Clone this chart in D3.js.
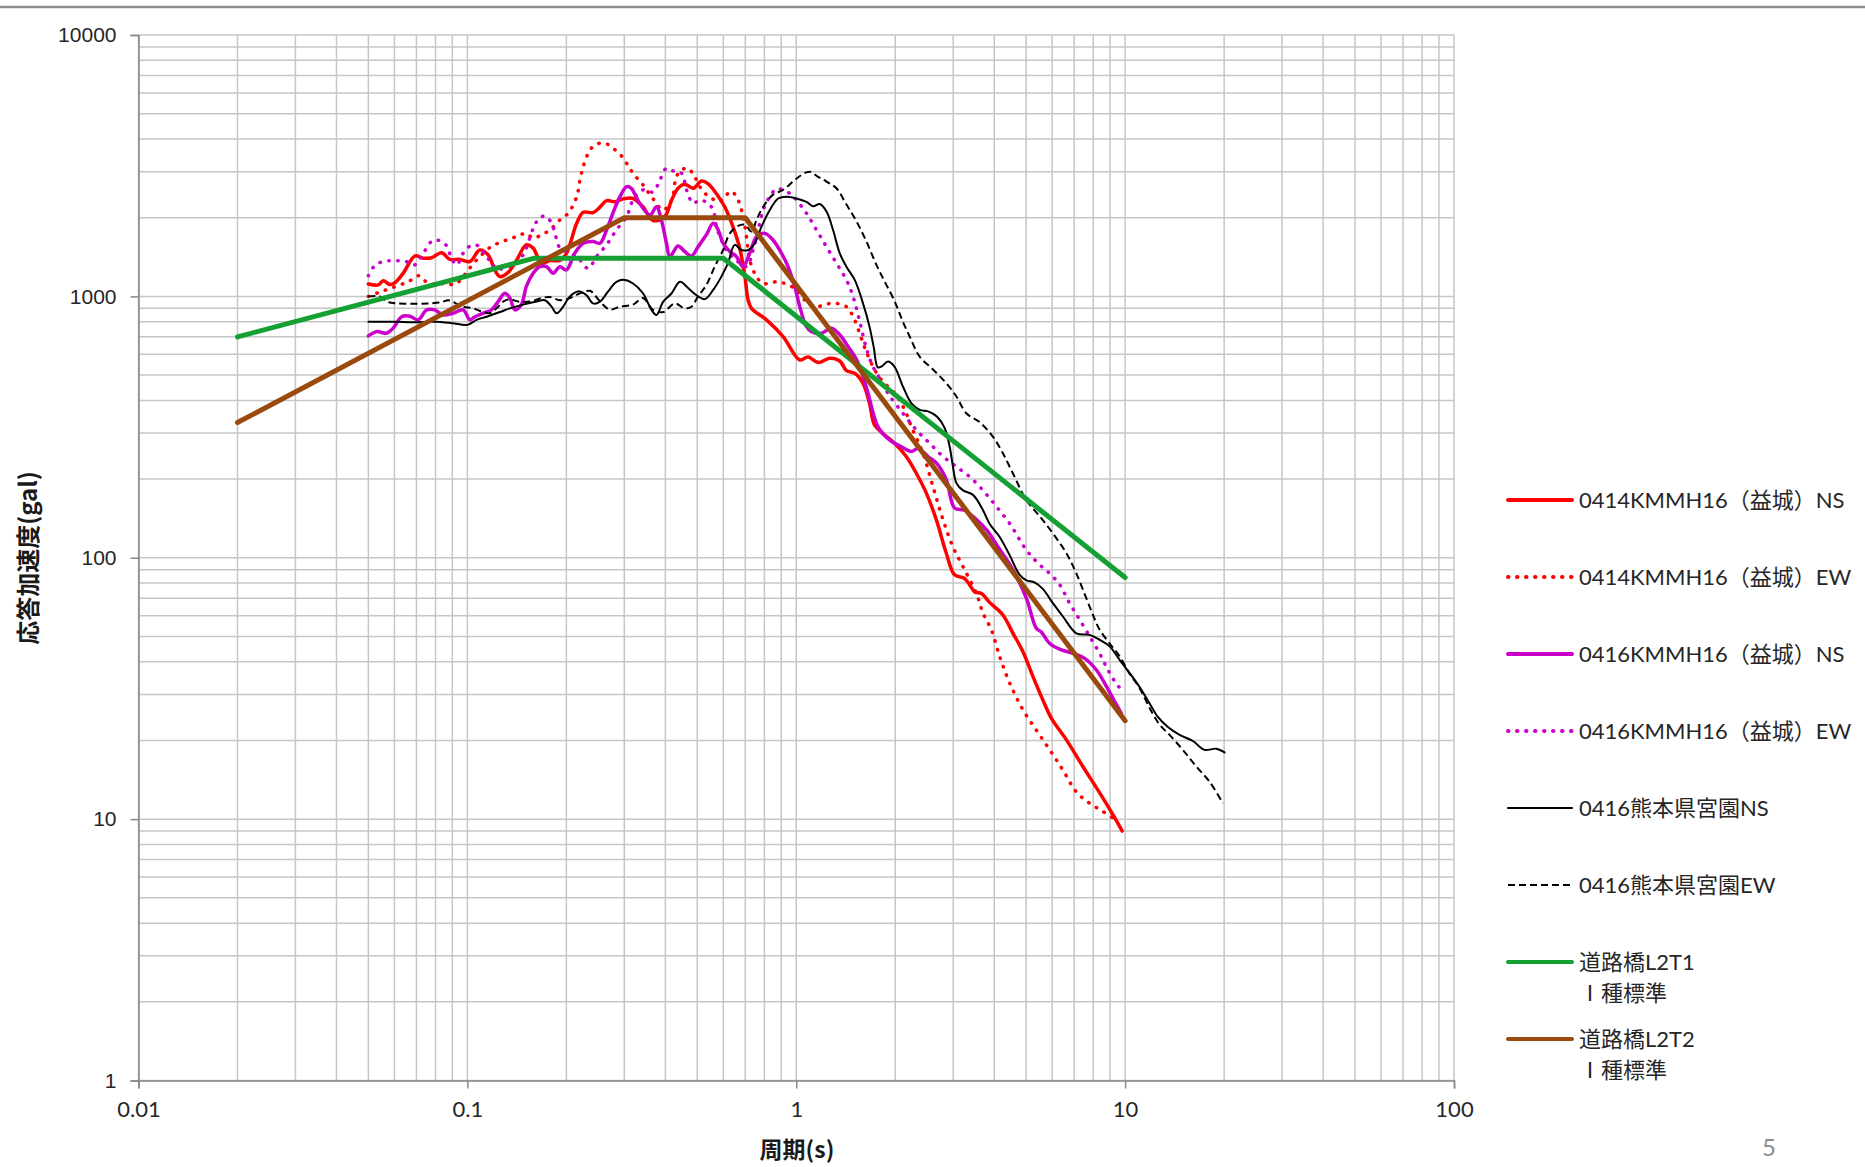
<!DOCTYPE html>
<html>
<head>
<meta charset="utf-8">
<script src="https://cdn.jsdelivr.net/npm/d3@7"></script>
<style>
  body { margin: 0; background: #fff; }
  svg { display: block; }
</style>
</head>
<body>
<div id="chart"></div>
<script>
// Tick labels
const periodTicks = [0.01, 0.1, 1, 10, 100];
const accelTicks = [1, 10, 100, 1000, 10000];

// Series: [period (s), response acceleration (gal)]
const kmmh0414NS = [
  [0.05, 1115], [0.0536, 1106], [0.0555, 1148], [0.0581, 1110], [0.0602, 1128], [0.0638, 1225],
  [0.0692, 1427], [0.0734, 1400], [0.0778, 1405], [0.0835, 1469], [0.0885, 1385], [0.0949, 1385],
  [0.1018, 1360], [0.1091, 1505], [0.1157, 1440], [0.1212, 1262], [0.1256, 1190], [0.133, 1235],
  [0.141, 1372], [0.151, 1574], [0.1585, 1530], [0.168, 1340], [0.1782, 1372], [0.191, 1372],
  [0.2, 1458], [0.215, 1904], [0.225, 2097], [0.241, 2090], [0.253, 2194], [0.265, 2324],
  [0.281, 2300], [0.2976, 2360], [0.319, 2369], [0.342, 2202], [0.367, 1950], [0.398, 2020],
  [0.418, 2339], [0.437, 2591], [0.458, 2688], [0.486, 2591], [0.515, 2764], [0.539, 2700],
  [0.572, 2470], [0.606, 2202], [0.642, 1848], [0.673, 1530], [0.698, 1190], [0.714, 968],
  [0.731, 900], [0.812, 813], [0.912, 702], [1.025, 571], [1.086, 586], [1.165, 558],
  [1.264, 580], [1.356, 566], [1.421, 520], [1.506, 508], [1.596, 465], [1.67, 390],
  [1.73, 322], [1.835, 299], [1.99, 274], [2.16, 244], [2.32, 210], [2.49, 176], [2.67, 139],
  [2.86, 104], [3.03, 86], [3.25, 83.3], [3.37, 78.6], [3.49, 74], [3.66, 73], [3.87, 67.5],
  [4.25, 60.4], [4.56, 51.4], [4.89, 43.7], [5.25, 35], [5.62, 28.6], [5.97, 24.3],
  [6.63, 20.1], [7.44, 15.9], [8.37, 12.6], [9.18, 10.4], [9.8, 9.0]
];

const kmmh0414EW = [
  [0.05, 1000], [0.0536, 1034], [0.0624, 1106], [0.0669, 1148], [0.0715, 1200], [0.076, 1120],
  [0.081, 1115], [0.086, 1120], [0.091, 1110], [0.095, 1150], [0.1, 1250], [0.108, 1400],
  [0.118, 1548], [0.1316, 1643], [0.141, 1692], [0.151, 1742], [0.1585, 1670], [0.168, 1720],
  [0.1782, 1795], [0.191, 1960], [0.2025, 2080], [0.215, 2407], [0.22, 2786], [0.225, 3133],
  [0.233, 3527], [0.244, 3795], [0.262, 3855], [0.277, 3686], [0.291, 3500], [0.305, 3229],
  [0.319, 2958], [0.342, 2669], [0.363, 2407], [0.394, 2141], [0.418, 2339], [0.432, 2868],
  [0.448, 3044], [0.469, 3090], [0.491, 2868], [0.521, 2513], [0.546, 2407], [0.579, 2300],
  [0.606, 2407], [0.635, 2525], [0.665, 2339], [0.689, 2020], [0.706, 1692], [0.722, 1376],
  [0.757, 1190], [0.793, 1120], [0.871, 1137], [0.934, 1115], [1.001, 1058], [1.074, 955],
  [1.152, 913], [1.236, 935], [1.325, 940], [1.421, 913], [1.488, 840], [1.56, 720],
  [1.62, 630], [1.712, 538], [1.816, 479], [1.99, 426], [2.137, 368], [2.24, 317],
  [2.428, 251], [2.605, 187], [2.794, 140], [2.996, 110], [3.214, 92.5], [3.53, 73],
  [3.697, 61.4], [3.92, 53], [4.155, 41.9], [4.46, 33.1], [4.89, 26.2], [5.37, 21.9],
  [5.9, 18.4], [6.47, 15.4], [7.11, 12.7], [7.8, 11.5], [8.56, 10.7], [9.51, 9.8]
];

const kmmh0416NS = [
  [0.05, 706], [0.053, 733], [0.0568, 723], [0.0595, 756], [0.0631, 836], [0.0669, 840],
  [0.0709, 813], [0.0752, 888], [0.0796, 888], [0.0844, 849], [0.0905, 862], [0.0971, 888],
  [0.1018, 813], [0.1054, 836], [0.1117, 862], [0.1184, 888], [0.124, 955], [0.13, 1028],
  [0.1347, 985], [0.1394, 888], [0.146, 930], [0.151, 1089], [0.1585, 1225], [0.166, 1299],
  [0.174, 1299], [0.1823, 1225], [0.191, 1299], [0.2, 1262], [0.212, 1462], [0.225, 1597],
  [0.241, 1622], [0.253, 1597], [0.265, 1795], [0.277, 2080], [0.291, 2407], [0.305, 2630],
  [0.315, 2591], [0.334, 2270], [0.359, 2046], [0.376, 2202], [0.389, 1960], [0.403, 1597],
  [0.413, 1420], [0.437, 1560], [0.458, 1485], [0.48, 1427], [0.503, 1548], [0.533, 1720],
  [0.559, 1904], [0.579, 1795], [0.599, 1597], [0.628, 1485], [0.658, 1420], [0.689, 1299],
  [0.722, 1462], [0.757, 1692], [0.802, 1742], [0.85, 1643], [0.902, 1462], [0.944, 1299],
  [0.99, 1089], [1.025, 913], [1.074, 766], [1.112, 733], [1.193, 723], [1.279, 756],
  [1.356, 713], [1.437, 643], [1.524, 575], [1.596, 493], [1.653, 426], [1.773, 317],
  [1.924, 282], [2.088, 266], [2.24, 255], [2.345, 262], [2.515, 244], [2.67, 230],
  [2.86, 199], [3.03, 155], [3.25, 152], [3.49, 142], [3.786, 128], [4.107, 110],
  [4.56, 90], [5.01, 70], [5.37, 53.7], [5.56, 52], [5.9, 47], [6.4, 44.4], [6.94, 43.1],
  [7.53, 41.2], [8.18, 37.2], [8.77, 32.2], [9.36, 27.7], [9.74, 25.4]
];

const kmmh0416EW = [
  [0.05, 1200], [0.0523, 1311], [0.0555, 1360], [0.06, 1370], [0.065, 1360], [0.069, 1318],
  [0.0734, 1462], [0.0778, 1622], [0.081, 1643], [0.086, 1574], [0.09, 1380], [0.093, 1320],
  [0.097, 1460], [0.103, 1570], [0.108, 1560], [0.113, 1450], [0.118, 1350], [0.124, 1260],
  [0.13, 1300], [0.14, 1320], [0.15, 1500], [0.158, 1800], [0.166, 2000], [0.174, 2020],
  [0.182, 1850], [0.19, 1550], [0.1955, 1505], [0.215, 1420], [0.233, 1280], [0.247, 1420],
  [0.265, 1574], [0.284, 1795], [0.305, 2020], [0.319, 2339], [0.342, 2554], [0.367, 2510],
  [0.385, 2786], [0.403, 3090], [0.427, 3000], [0.448, 2958], [0.464, 2554], [0.486, 2270],
  [0.509, 2339], [0.539, 2270], [0.559, 2141], [0.572, 1848], [0.592, 1643], [0.613, 1505],
  [0.658, 1372], [0.706, 1299], [0.739, 1505], [0.766, 1795], [0.793, 2141], [0.831, 2407],
  [0.871, 2580], [0.912, 2554], [0.967, 2450], [1.001, 2339], [1.074, 2080], [1.152, 1795],
  [1.236, 1548], [1.325, 1340], [1.421, 1156], [1.488, 1000], [1.56, 800], [1.635, 630],
  [1.712, 538], [1.794, 485], [1.9, 426], [2.11, 357], [2.32, 308], [2.546, 274],
  [2.794, 244], [3.069, 223], [3.37, 204], [3.697, 181], [4.06, 157], [4.46, 135],
  [5.01, 107], [5.45, 95], [5.9, 87], [6.32, 79], [6.78, 67], [7.27, 58], [7.8, 50],
  [8.37, 43], [8.87, 37.2], [9.4, 33], [9.8, 31]
];

const miyazono0416NS = [
  [0.05, 800], [0.0595, 800], [0.0701, 796], [0.08, 800], [0.09, 790], [0.1, 778],
  [0.1066, 813], [0.1144, 836], [0.1256, 871], [0.1347, 900], [0.1477, 930], [0.1623, 955],
  [0.172, 967], [0.1803, 913], [0.1867, 862], [0.1955, 913], [0.205, 1000], [0.217, 1045],
  [0.23, 1011], [0.241, 940], [0.253, 955], [0.268, 1045], [0.284, 1137], [0.301, 1156],
  [0.319, 1120], [0.342, 1028], [0.363, 888], [0.376, 849], [0.394, 955], [0.418, 1028],
  [0.443, 1137], [0.469, 1076], [0.497, 1011], [0.527, 976], [0.559, 1058], [0.592, 1190],
  [0.62, 1340], [0.65, 1574], [0.681, 1505], [0.714, 1505], [0.748, 1597], [0.784, 1848],
  [0.831, 2141], [0.881, 2369], [0.934, 2407], [1.001, 2369], [1.074, 2300], [1.125, 2213],
  [1.179, 2255], [1.236, 2112], [1.294, 1795], [1.356, 1462], [1.421, 1299], [1.506, 1156],
  [1.596, 940], [1.67, 766], [1.72, 640], [1.77, 535], [1.82, 540], [1.9, 563], [1.99, 538],
  [2.11, 452], [2.24, 390], [2.373, 368], [2.515, 363], [2.67, 348], [2.828, 313],
  [2.928, 266], [2.996, 223], [3.069, 193], [3.214, 181], [3.447, 174], [3.697, 152],
  [3.87, 135], [4.155, 120], [4.46, 102], [4.78, 86], [5.01, 82], [5.3, 80.5], [5.62, 76],
  [6.03, 67], [6.47, 59.6], [7.11, 51.4], [7.8, 50.7], [8.37, 48.5], [8.97, 45.8],
  [9.62, 40.7], [10.32, 36.2], [11.07, 32], [11.87, 27.7], [12.58, 24.6], [13.49, 22.5],
  [14.64, 21], [16.07, 19.9], [17.44, 18.4], [18.93, 18.6], [20.06, 18.0]
];

const miyazono0416EW = [
  [0.05, 1000], [0.0542, 1000], [0.0568, 955], [0.0609, 940], [0.0684, 938], [0.0769, 940],
  [0.0835, 950], [0.0874, 967], [0.0916, 945], [0.0971, 913], [0.1041, 900], [0.1117, 871],
  [0.117, 862], [0.1227, 900], [0.1284, 955], [0.1347, 975], [0.1427, 955], [0.155, 955],
  [0.168, 985], [0.1782, 995], [0.191, 967], [0.205, 985], [0.22, 1028], [0.236, 1050],
  [0.244, 1011], [0.256, 940], [0.271, 890], [0.291, 913], [0.319, 930], [0.342, 985],
  [0.367, 888], [0.394, 871], [0.427, 940], [0.458, 900], [0.48, 913], [0.503, 1000],
  [0.533, 1106], [0.565, 1299], [0.599, 1505], [0.628, 1742], [0.665, 1860], [0.698, 1880],
  [0.731, 1770], [0.757, 1960], [0.793, 2202], [0.85, 2450], [0.912, 2554], [0.978, 2750],
  [1.037, 2913], [1.099, 3000], [1.165, 2868], [1.236, 2750], [1.325, 2591], [1.42, 2250],
  [1.52, 1950], [1.635, 1620], [1.753, 1320], [1.85, 1150], [1.99, 960], [2.11, 800],
  [2.213, 702], [2.373, 588], [2.605, 525], [2.86, 465], [3.069, 414], [3.29, 357],
  [3.613, 330], [3.965, 290], [4.25, 251], [4.56, 210], [5.01, 166], [5.5, 144],
  [6.03, 124], [6.63, 104], [7.11, 87], [7.62, 70], [8.0, 60], [8.37, 53], [8.97, 47],
  [9.62, 42], [10.32, 36], [11.07, 31.7], [11.87, 26.6], [12.73, 23], [13.65, 21],
  [14.98, 18.4], [16.46, 15.9], [18.06, 13.9], [19.83, 11.5]
];

// Design spectra (Road Bridge L2, Type I / Type II, ground class I)
const roadL2T1 = [[0.02, 700], [0.16, 1400], [0.6, 1400], [10, 84]];
const roadL2T2 = [[0.02, 329], [0.3, 2000], [0.7, 2000], [10, 23.8]];

const seriesNames = [
  '0414KMMH16（益城）NS',
  '0414KMMH16（益城）EW',
  '0416KMMH16（益城）NS',
  '0416KMMH16（益城）EW',
  '0416熊本県宮園NS',
  '0416熊本県宮園EW',
  '道路橋L2T1\nⅠ種標準',
  '道路橋L2T2\nⅠ種標準'
];

const series = [
  { data: kmmh0414NS, color: '#ff0000', width: 3.5, dash: null, curve: true },
  { data: kmmh0414EW, color: '#ff0000', width: 3.5, dash: 'dot', curve: true },
  { data: kmmh0416NS, color: '#cc00cc', width: 3.5, dash: null, curve: true },
  { data: kmmh0416EW, color: '#cc00cc', width: 3.5, dash: 'dot', curve: true },
  { data: miyazono0416NS, color: '#000000', width: 2, dash: null, curve: true },
  { data: miyazono0416EW, color: '#000000', width: 2, dash: '7,4', curve: true },
  { data: roadL2T1, color: '#15a034', width: 5, dash: null, curve: false },
  { data: roadL2T2, color: '#9a4a0c', width: 5, dash: null, curve: false }
];

const W = 1865, H = 1167;
const plot = { left: 138.5, right: 1454, top: 35, bottom: 1080.5 };

const svg = d3.select('#chart')
  .append('svg')
  .attr('width', W)
  .attr('height', H);

svg.append('rect').attr('width', W).attr('height', H).attr('fill', '#fff');

// Slide border at the top
svg.append('line')
  .attr('x1', 0).attr('x2', W)
  .attr('y1', 7).attr('y2', 7)
  .attr('stroke', '#8c8c8c')
  .attr('stroke-width', 2.5);

const x = d3.scaleLog().domain([0.01, 100]).range([plot.left, plot.right]);
const y = d3.scaleLog().domain([1, 10000]).range([plot.bottom, plot.top]);

// Grid
const grid = svg.append('g').attr('class', 'grid');
grid.selectAll('line.v')
  .data(x.ticks())
  .enter().append('line')
  .attr('x1', d => x(d)).attr('x2', d => x(d))
  .attr('y1', plot.top).attr('y2', plot.bottom)
  .attr('stroke', '#c6c6c6')
  .attr('stroke-width', 1.5);
grid.selectAll('line.h')
  .data(y.ticks())
  .enter().append('line')
  .attr('y1', d => y(d)).attr('y2', d => y(d))
  .attr('x1', plot.left).attr('x2', plot.right)
  .attr('stroke', '#c6c6c6')
  .attr('stroke-width', 1.5);

// Axes
const xAxis = svg.append('g')
  .attr('transform', `translate(0,${plot.bottom})`)
  .call(d3.axisBottom(x).tickValues(periodTicks).tickFormat(d => String(d)).tickSize(8).tickPadding(13));
const yAxis = svg.append('g')
  .attr('transform', `translate(${plot.left},0)`)
  .call(d3.axisLeft(y).tickValues(accelTicks).tickFormat(d => String(d)).tickSize(8).tickPadding(14));

[xAxis, yAxis].forEach(a => {
  a.select('.domain').attr('stroke', '#878787').attr('stroke-width', 1.5);
  a.selectAll('.tick line').attr('stroke', '#878787').attr('stroke-width', 1.5);
});
xAxis.selectAll('.tick text')
  .attr('font-family', 'Lato, "Noto Sans", sans-serif')
  .attr('font-size', 22)
  .attr('fill', '#262626');
yAxis.selectAll('.tick text')
  .attr('font-family', '"Liberation Sans", Arial, sans-serif')
  .attr('font-size', 21)
  .attr('fill', '#262626');

// Axis titles
svg.append('text')
  .attr('x', 797).attr('y', 1148)
  .attr('text-anchor', 'middle')
  .attr('dominant-baseline', 'central')
  .attr('font-family', '"Noto Sans CJK JP", sans-serif')
  .attr('font-weight', 'bold')
  .attr('font-size', 23)
  .attr('fill', '#1a1a1a')
  .text('周期(s)');

svg.append('text')
  .attr('transform', 'translate(26,558) rotate(-90)')
  .attr('text-anchor', 'middle')
  .attr('dominant-baseline', 'central')
  .attr('font-family', '"Noto Sans CJK JP", sans-serif')
  .attr('font-weight', 'bold')
  .attr('font-size', 24)
  .attr('fill', '#1a1a1a')
  .text('応答加速度(gal)');

// Series lines
const plotArea = svg.append('g');

function styleLine(sel, s) {
  sel.attr('fill', 'none')
    .attr('stroke', s.color)
    .attr('stroke-width', s.width)
    .attr('stroke-linejoin', 'round');
  if (s.dash === 'dot') {
    sel.attr('stroke-dasharray', '0.5,8.5').attr('stroke-linecap', 'round');
  } else if (s.dash) {
    sel.attr('stroke-dasharray', s.dash);
  } else {
    sel.attr('stroke-linecap', 'round');
  }
}

series.forEach(s => {
  const line = d3.line()
    .x(d => x(d[0]))
    .y(d => y(d[1]))
    .curve(s.curve ? d3.curveCatmullRom.alpha(0.5) : d3.curveLinear);
  plotArea.append('path')
    .datum(s.data)
    .attr('d', line)
    .call(styleLine, s);
});

// Legend
const legend = svg.append('g').attr('class', 'legend');
seriesNames.forEach((name, i) => {
  const s = series[i];
  const g = legend.append('g')
    .attr('transform', `translate(1508,${500 + i * 77})`);

  g.append('line')
    .attr('x1', 0).attr('x2', 64)
    .attr('y1', 0).attr('y2', 0)
    .call(styleLine, { color: s.color, width: s.width === 2 ? 2 : 4, dash: s.dash });

  const lines = name.split('\n');
  const t = g.append('text')
    .attr('x', 71)
    .attr('font-family', 'Lato, "Noto Sans CJK JP", sans-serif')
    .attr('font-size', 22)
    .attr('fill', '#262626');
  lines.forEach((ln, j) => {
    t.append('tspan')
      .attr('x', 71)
      .attr('y', j * 31)
      .attr('dy', '0.35em')
      .text(ln);
  });
});

// Page number
svg.append('text')
  .attr('x', 1769).attr('y', 1156)
  .attr('text-anchor', 'middle')
  .attr('font-family', 'Lato, sans-serif')
  .attr('font-size', 24)
  .attr('fill', '#8c8c8c')
  .text('5');
</script>
</body>
</html>
